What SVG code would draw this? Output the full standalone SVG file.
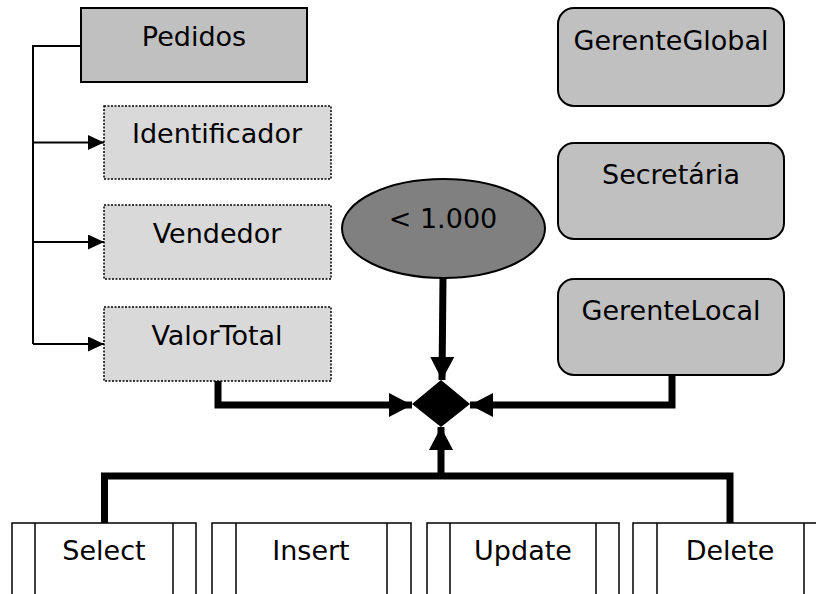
<svg xmlns="http://www.w3.org/2000/svg" width="816" height="594" viewBox="0 0 816 594">
<defs>
<style>
text{font-family:"DejaVu Sans","Verdana",sans-serif;font-size:27px;fill:#000;text-anchor:middle}
.tbl{fill:#c0c0c0;stroke:#000;stroke-width:2}
.att{fill:#d9d9d9;stroke:#000;stroke-width:1.5;stroke-dasharray:2 1.5}
.role{fill:#c0c0c0;stroke:#000;stroke-width:2}
.op{fill:#fff;stroke:#000;stroke-width:1.5}
.thin{fill:none;stroke:#000;stroke-width:2}
.thick{fill:none;stroke:#000;stroke-width:7}
</style>
<marker id="a1" markerWidth="16" markerHeight="15" refX="16" refY="7.5" orient="auto" markerUnits="userSpaceOnUse"><path d="M0,0 L16,7.5 L0,15 Z" fill="#000"/></marker>
<marker id="a2" markerWidth="24" markerHeight="24" refX="23" refY="12" orient="auto" markerUnits="userSpaceOnUse"><path d="M0,0 L23,12 L0,24 Z" fill="#000"/></marker>
</defs>
<g id="connectors">
<path class="thin" d="M81,46 H33 V344"/>
<path class="thin" d="M33,142.5 H104" marker-end="url(#a1)"/>
<path class="thin" d="M33,242 H104" marker-end="url(#a1)"/>
<path class="thin" d="M33,344 H104" marker-end="url(#a1)"/>
<path class="thick" d="M443,278 L442,380" marker-end="url(#a2)"/>
<path class="thick" d="M218,381 V405 H412" marker-end="url(#a2)"/>
<path class="thick" d="M672,375 V405 H470" marker-end="url(#a2)"/>
<path class="thick" d="M104.5,523 V476 H730 V523"/>
<path class="thick" d="M441,476 V427" marker-end="url(#a2)"/>
</g>
<g id="pedidos"><rect class="tbl" x="81" y="8" width="226" height="74"/><text x="194" y="46">Pedidos</text></g>
<g id="identificador"><rect class="att" x="104" y="106" width="227" height="73"/><text x="217" y="143">Identificador</text></g>
<g id="vendedor"><rect class="att" x="104" y="205" width="227" height="74"/><text x="217" y="243">Vendedor</text></g>
<g id="valortotal"><rect class="att" x="104" y="307" width="227" height="74"/><text x="217" y="345">ValorTotal</text></g>
<g id="limite"><ellipse cx="443.5" cy="228.5" rx="101.5" ry="49.5" fill="#808080" stroke="#000" stroke-width="2"/><text x="443" y="228">&lt; 1.000</text></g>
<g id="juncao"><path d="M441,380 L470,404 L441,427 L412,404 Z" fill="#000"/></g>
<g id="gerenteglobal"><rect class="role" x="558" y="8" width="226" height="98" rx="16"/><text x="671" y="50">GerenteGlobal</text></g>
<g id="secretaria"><rect class="role" x="558" y="143" width="226" height="96" rx="16"/><text x="671" y="184">Secretária</text></g>
<g id="gerentelocal"><rect class="role" x="558" y="279" width="226" height="96" rx="16"/><text x="671" y="320">GerenteLocal</text></g>
<g id="select"><rect class="op" x="12" y="523" width="184" height="80"/><path class="op" d="M35,523 V603 M173,523 V603"/><text x="104" y="560">Select</text></g>
<g id="insert"><rect class="op" x="212" y="523" width="199" height="80"/><path class="op" d="M236,523 V603 M387,523 V603"/><text x="311" y="560">Insert</text></g>
<g id="update"><rect class="op" x="427" y="523" width="192" height="80"/><path class="op" d="M450,523 V603 M596,523 V603"/><text x="523" y="560">Update</text></g>
<g id="delete"><rect class="op" x="633" y="523" width="195" height="80"/><path class="op" d="M657,523 V603 M804,523 V603"/><text x="730" y="560">Delete</text></g>
</svg>
